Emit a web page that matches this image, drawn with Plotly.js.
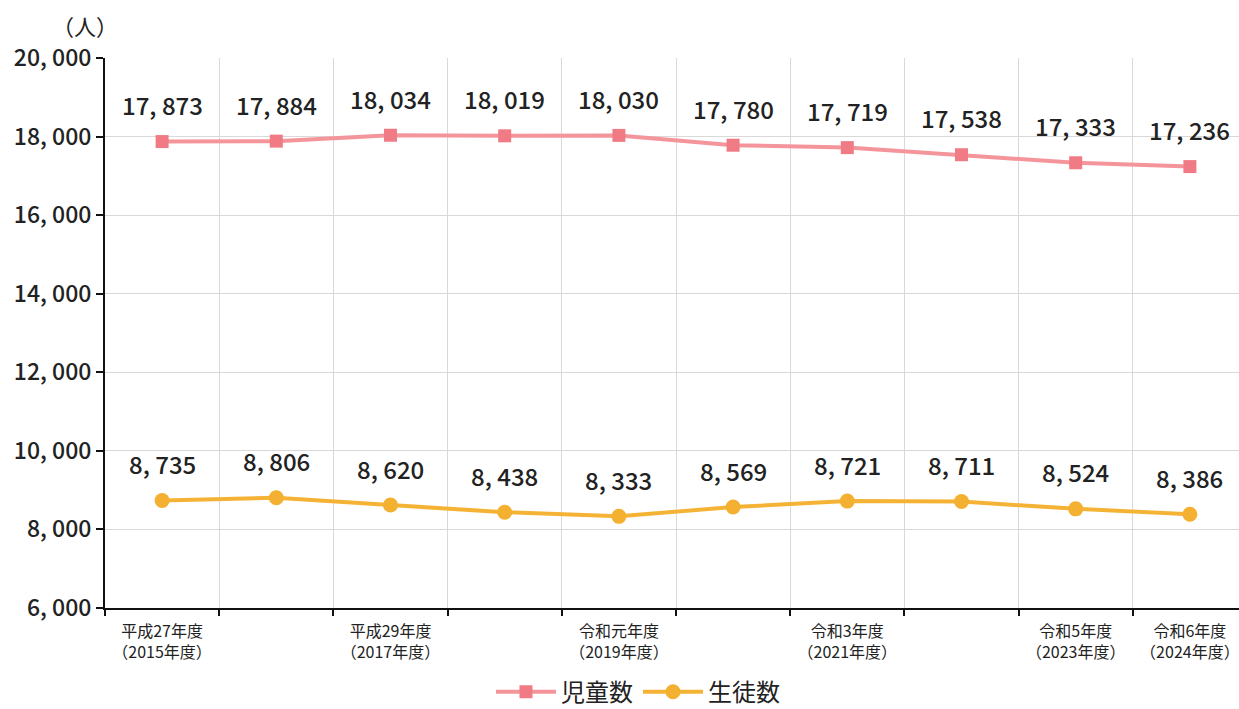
<!DOCTYPE html>
<html>
<head>
<meta charset="utf-8">
<script src="https://cdn.plot.ly/plotly-3.0.1.min.js"></script>
<style>
  html, body { margin: 0; padding: 0; background: #fff; }
  #chart { width: 1239px; height: 709px; }
</style>
</head>
<body>
<div id="chart"></div>
<script>
// 児童数・生徒数の推移

const years = [0, 1, 2, 3, 4, 5, 6, 7, 8, 9];
const yearLabels = [
    '平成27年度<br>（2015年度）', '',
    '平成29年度<br>（2017年度）', '',
    '令和元年度<br>（2019年度）', '',
    '令和3年度<br>（2021年度）', '',
    '令和5年度<br>（2023年度）',
    '令和6年度<br>（2024年度）',
];
const jido  = [17873, 17884, 18034, 18019, 18030, 17780, 17719, 17538, 17333, 17236];
const seito = [8735, 8806, 8620, 8438, 8333, 8569, 8721, 8711, 8524, 8386];
const yTicks = [6000, 8000, 10000, 12000, 14000, 16000, 18000, 20000];

const FONT = '"Noto Sans CJK JP", "Noto Sans", sans-serif';
const PINK_LINE = '#f4959b', PINK_MARK = '#f17b85';
const GOLD_LINE = '#f5b335', GOLD_MARK = '#f3b031';

// 17873 -> "17, 873" like the original
const fmt = v => v.toLocaleString('en-US').replace(/,/g, ', ');

const traces = [
    {
        x: years, y: jido, name: '児童数',
        type: 'scatter', mode: 'lines+markers',
        line: { color: PINK_LINE, width: 4 },
        marker: { color: PINK_MARK, symbol: 'square', size: 13 },
        hoverinfo: 'skip',
    },
    {
        x: years, y: seito, name: '生徒数',
        type: 'scatter', mode: 'lines+markers',
        line: { color: GOLD_LINE, width: 4 },
        marker: { color: GOLD_MARK, symbol: 'circle', size: 15 },
        hoverinfo: 'skip',
    },
];

const labelFor = (vals) => vals.map((v, i) => ({
    x: years[i], y: v, xref: 'x', yref: 'y',
    text: fmt(v), showarrow: false, yshift: 37,
    font: { family: FONT, size: 24, weight: 500, color: '#222' },
}));

const layout = {
    width: 1239, height: 709,
    paper_bgcolor: '#fff', plot_bgcolor: '#fff',
    font: { family: FONT, color: '#222' },
    margin: { t: 58, r: 0, b: 101, l: 105, autoexpand: false },
    showlegend: true,
    legend: {
        orientation: 'h', x: 0.47, xanchor: 'center', y: -0.153, yanchor: 'middle',
        font: { family: FONT, size: 24, color: '#222' },
        itemwidth: 60,
    },
    xaxis: {
        range: [-0.5, 9.43], automargin: false,
        tickmode: 'array', tickvals: years, ticktext: yearLabels,
        ticks: '', showgrid: false, zeroline: false,
        showline: true, linecolor: '#111', linewidth: 2,
        tickfont: { family: FONT, size: 16, color: '#222' },
        ticklabelstandoff: 8, ticklabeloverflow: 'allow',
        minor: {
            tick0: -0.5, dtick: 1, ticks: 'outside', ticklen: 6, tickwidth: 2,
            tickcolor: '#111', showgrid: true, gridcolor: '#d9d9d9', gridwidth: 1,
        },
    },
    yaxis: {
        range: [6000, 20000], automargin: false,
        tickmode: 'array', tickvals: yTicks, ticktext: yTicks.map(fmt),
        ticks: 'outside', ticklen: 7, tickwidth: 2, tickcolor: '#111',
        showgrid: true, gridcolor: '#d9d9d9', gridwidth: 1, zeroline: false,
        showline: true, linecolor: '#111', linewidth: 2,
        tickfont: { family: FONT, size: 23, weight: 500, color: '#222' },
    },
    annotations: [
        ...labelFor(jido),
        ...labelFor(seito),
        {
            x: -0.018, xref: 'paper', y: 1.06, yref: 'paper', text: '（人）', showarrow: false,
            xanchor: 'center', yanchor: 'middle',
            font: { family: FONT, size: 22, color: '#222' },
        },
    ],
};

Plotly.newPlot(document.getElementById('chart'), traces, layout,
               { displayModeBar: false, staticPlot: true });
</script>
</body>
</html>
